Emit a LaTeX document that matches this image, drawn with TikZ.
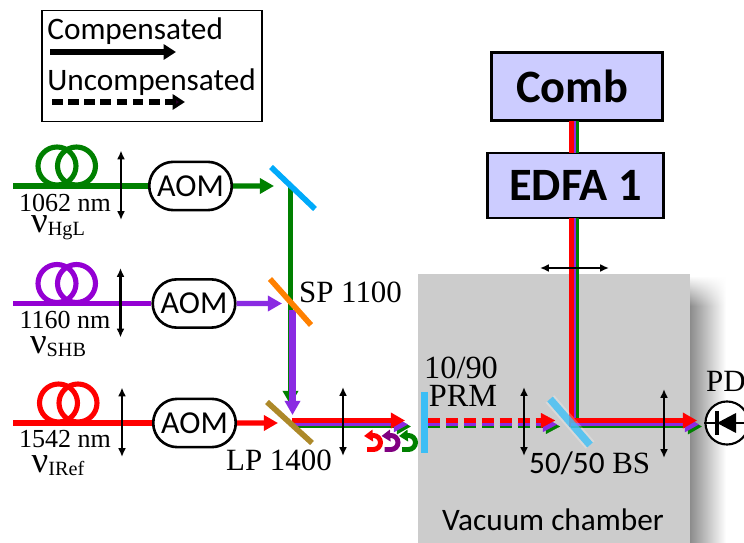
\documentclass[tikz,border=0pt]{standalone}
\usepackage{fontspec}
\setmainfont{Liberation Serif}
\newfontfamily\calibri{Carlito}
\usepackage{xcolor}
\usetikzlibrary{positioning, arrows.meta, shapes.misc, calc, fadings}

\definecolor{beamgreen}{RGB}{0,128,0}
\definecolor{beamviolet}{RGB}{138,43,226}
\definecolor{coilviolet}{RGB}{148,0,211}
\definecolor{darkviolet}{RGB}{128,0,128}
\definecolor{boxblue}{RGB}{204,204,255}
\definecolor{chamber}{RGB}{204,204,204}
\definecolor{spblue}{RGB}{0,170,250}
\definecolor{lpbrown}{RGB}{173,137,41}
\definecolor{prmblue}{RGB}{60,190,245}

\newcommand{\nulabel}[1]{{\fontsize{21}{21}\selectfont ν}\raisebox{-0.4ex}{\fontsize{11.5}{12}\selectfont #1}}

\begin{document}
\begin{tikzpicture}[
  x=0.02cm, y=-0.02cm,
  beam/.style={line width=2.9pt, -{Triangle[length=8pt,width=8.5pt]}},
  fiber/.style={line width=2.9pt},
  lens/.style={line width=1.3pt, {Latex[length=5pt,width=4.5pt]}-{Latex[length=5pt,width=4.5pt]}},
  mirror/.style={line width=3.2pt},
  aom/.style={draw, line width=1.5pt, fill=white, rounded rectangle, minimum width=47pt, minimum height=27.5pt, inner sep=0pt, font=\calibri\fontsize{18.2}{18.2}\selectfont},
  bigbox/.style={draw, line width=1.5pt, fill=boxblue, font=\calibri\bfseries\fontsize{26.4}{26.4}\selectfont, inner sep=0pt},
  serif/.style={font=\fontsize{17.6}{17.6}\selectfont, inner sep=0pt},
  small/.style={font=\fontsize{14.8}{14.8}\selectfont, inner sep=0pt},
  sans/.style={font=\calibri\fontsize{17.8}{17.8}\selectfont, inner sep=0pt}
]
\useasboundingbox (0,0) rectangle (744,543);

% chamber and its shadow
\shade[left color=black!45, right color=white] (690,278) rectangle (726,543);
\fill[white, path fading=south] (690,276) rectangle (727,306);
\fill[chamber] (418,274) rectangle (690,543);

% legend
\node[draw, line width=0.9pt, minimum width=125.5pt, minimum height=63pt, inner sep=0pt] (legend) at (152,66) {};
\node[sans, anchor=west] (comptext) at (47,31) {Compensated};
\node[sans, anchor=west] (uncomptext) at (47,82) {Uncompensated};
\coordinate (compa) at (50,52);
\coordinate (compb) at (176,52);
\coordinate (uncompa) at (52,102);
\coordinate (uncompb) at (185,102);
\draw[line width=3.2pt, -{Triangle[length=7pt,width=8.5pt]}] (compa) -- (compb);
\draw[line width=3.2pt, dash pattern=on 6pt off 3.2pt, -{Triangle[length=7pt,width=8.5pt,fill=black!70!darkviolet]}] (uncompa) -- (uncompb);

% sources: fibre coil, lens, AOM
\foreach \nm/\col/\yy/\cx/\lx/\ax/\ny/\wl/\sub in {
  hgl/beamgreen/186/57/121/190.5/226/1062/HgL,
  shb/coilviolet/303.5/57/120.5/194/345/1160/SHB,
  iref/red/423/58.5/122/194.5/464/1542/IRef} {
  \coordinate (\nm start) at (13,\yy);
  \node[aom] (\nm aom) at (\ax,\yy) {AOM};
  \draw[fiber, \col] (\nm start) -- (\nm aom.west);
  \draw[fiber, \col] (\cx,\yy-20) circle[radius=19];
  \draw[fiber, \col] (\cx+19.5,\yy-20) circle[radius=19];
  \coordinate (\nm la) at (\lx,\yy-35.5);
  \coordinate (\nm lb) at (\lx,\yy+34);
  \draw[lens] (\nm la) -- (\nm lb);
  \node[small] (\nm wl) at (65,\yy+16.5) {\wl{} nm};
  \node[inner sep=0pt] (\nm nu) at (58,\ny+2) {\nulabel{\sub}};
}

% beams to the dichroics
\coordinate (spmirror) at (290.5,186);
\coordinate (lpmirror) at (292,423);
\coordinate (hgltip) at (274,186);
\coordinate (shbtip) at (282,303.5);
\coordinate (ireftip) at (278,423);
\coordinate (shbturn) at (292.5,310);
\coordinate (greentip) at (290.5,405);
\coordinate (violettip) at (292.5,415);
\draw[beam, beamgreen] (hglaom) -- (hgltip);
\draw[beam, beamviolet] (shbaom) -- (shbtip);
\draw[beam, red] (irefaom) -- (ireftip);
\draw[beam, beamgreen] (spmirror) -- (greentip);
\draw[beam, beamviolet, line width=3.6pt] (shbturn) -- (violettip);

% combined beam to the cavity
\draw[beam, beamgreen, line width=1.8pt] (lpmirror |- 0,426.5) -- (411,426.5);
\draw[beam, beamviolet, line width=1.2pt] (lpmirror |- 0,424.5) -- (408,424.5);
\draw[beam, red, line width=3.4pt] (lpmirror |- 0,420.5) -- (405,420.5);
\foreach \col/\yy/\wd/\tip in {beamgreen/426.5/1.8/560, beamviolet/424.5/1.2/557, red/420.5/3.4/555} {
  \draw[\col, line width=\wd pt, dash pattern=on 6.8pt off 3.4pt] (428,\yy) -- (\tip-12,\yy);
  \draw[beam, \col, line width=0.1pt] (\tip-9,\yy) -- (\tip,\yy);
}

% from the comb through the beamsplitter
\node[bigbox, minimum width=97.5pt, minimum height=39pt] (comb) at (577,86.5) {Comb\kern 5.6pt};
\node[bigbox, minimum width=100.5pt, minimum height=37pt] (edfa) at (575.5,185.5) {EDFA 1};
\foreach \col/\xx/\wd in {beamgreen/577.5/1.8, beamviolet/575/1.2, red/571.5/3.2} {
  \draw[\col, line width=\wd pt] (\xx,121) -- (\xx,153);
  \draw[\col, line width=\wd pt] (\xx,218) -- (\xx,427);
}
\foreach \col/\yy/\wd/\tip in {beamgreen/426.5/1.8/702, beamviolet/424.5/1.2/699, red/420.5/3.4/697} {
  \draw[beam, \col, line width=\wd pt] (571,\yy) -- (\tip,\yy);
}

% mirrors
\coordinate (spa) at (271,167); \coordinate (spb) at (315,209);
\coordinate (ora) at (270,279); \coordinate (orb) at (311,325);
\coordinate (lpa) at (267,402); \coordinate (lpb) at (312,443);
\coordinate (prma) at (424.5,392); \coordinate (prmb) at (424.5,453);
\coordinate (bsa) at (550,399); \coordinate (bsb) at (590,445);
\draw[mirror, spblue] (spa) -- (spb);
\draw[mirror, orange] (ora) -- (orb);
\draw[mirror, lpbrown] (lpa) -- (lpb);
\draw[mirror, prmblue, line width=3.6pt] (prma) -- (prmb);
\draw[line width=6.5pt, white, opacity=0.25] (bsa) -- (bsb);
\draw[mirror, prmblue, opacity=0.8, line width=4.2pt] (bsa) -- (bsb);

% returning light
\foreach \nm/\col/\dx in {reta/red/0, retb/darkviolet/17.5, retc/beamgreen/35} {
  \coordinate (\nm a) at (367+\dx,449.5);
  \coordinate (\nm b) at (364+\dx,436);
  \draw[\col, line width=2.8pt, -{Triangle[length=5pt,width=6.5pt]}] (\nm a) -- ++(6.5,0) arc[start angle=90, end angle=-90, radius=7] -- (\nm b);
}

% other lenses
\foreach \nm/\lx/\la/\lb in {one/343/387/456, two/524/387/456, three/664/389/458} {
  \coordinate (\nm a) at (\lx,\la);
  \coordinate (\nm b) at (\lx,\lb);
  \draw[lens] (\nm a) -- (\nm b);
}
\coordinate (arma) at (540,268);
\coordinate (armb) at (609,268);
\draw[lens] (arma) -- (armb);

% photodiode
\node[circle, draw, line width=1.2pt, fill=white, minimum size=24.5pt, inner sep=0pt] (pd) at (727,423) {};
\draw[line width=1.4pt] (pd.west) -- (pd.east);
\fill (717,423) -- (736,413) -- (736,433) -- cycle;
\draw[line width=2.2pt] (717,411) -- (717,435);

% labels
\node[serif] (sp) at (350.5,292) {SP 1100};
\node[serif] (lp) at (279,460) {LP 1400};
\node[serif, font=\fontsize{18.4}{18.4}\selectfont] (ratio) at (461,368) {10/90};
\node[serif, font=\fontsize{18.4}{18.4}\selectfont] (prmtext) at (463,396) {PRM};
\node[serif, anchor=west] (bstext) at (612,463) {BS};
\node[sans, anchor=east] (fifty) at (605,463) {50/50};
\node[serif] (pdtext) at (726,381) {PD};
\node[sans] (vac) at (553,520) {Vacuum chamber};
\end{tikzpicture}
\end{document}
